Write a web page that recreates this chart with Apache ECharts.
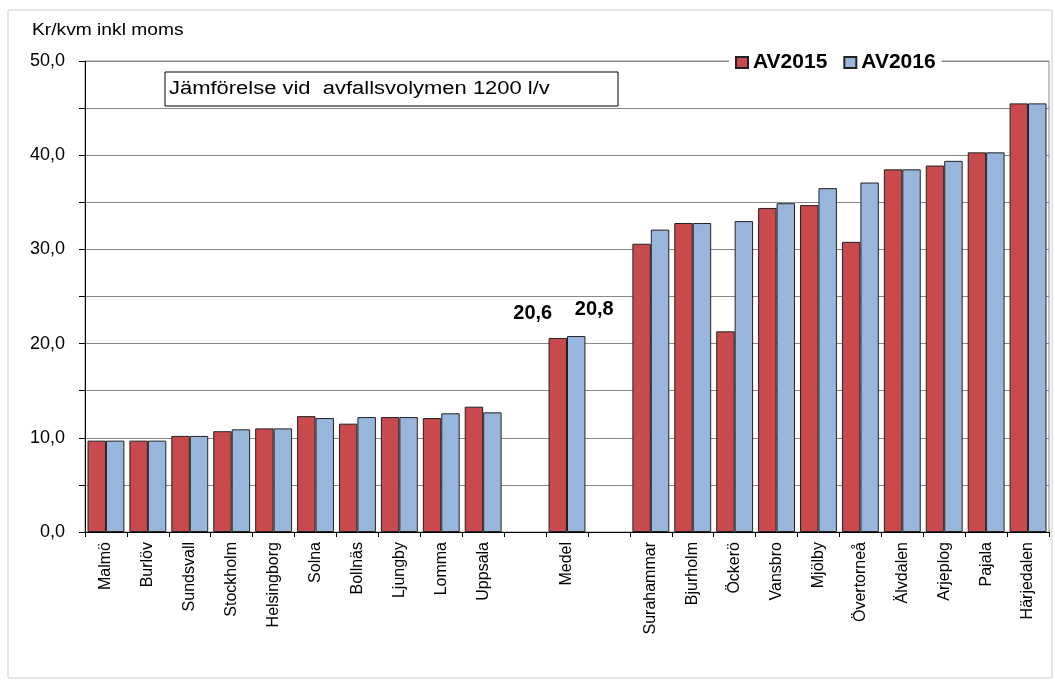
<!DOCTYPE html>
<html><head><meta charset="utf-8">
<script src="https://cdn.jsdelivr.net/npm/echarts@6/dist/echarts.min.js"></script>
<style>html,body{margin:0;padding:0;background:#fff}#c{width:1055px;height:680px}</style>
</head><body><div id="c"></div>
<script>
const categories = ['Malmö','Burlöv','Sundsvall','Stockholm','Helsingborg','Solna','Bollnäs','Ljungby','Lomma','Uppsala',' ','Medel','  ','Surahammar','Bjurholm','Öckerö','Vansbro','Mjölby','Övertorneå','Älvdalen','Arjeplog','Pajala','Härjedalen'];
const av2015 = [9.7,9.7,10.2,10.7,11.0,12.3,11.5,12.2,12.1,13.3,null,20.6,null,30.6,32.8,21.3,34.4,34.7,30.8,38.5,38.9,40.3,45.5];
const av2016 = [9.7,9.7,10.2,10.9,11.0,12.1,12.2,12.2,12.6,12.7,null,20.8,null,32.1,32.8,33.0,34.9,36.5,37.1,38.5,39.4,40.3,45.5];
const seriesNames = ['AV2015','AV2016'];
const yTicks = [0,10,20,30,40,50];
const titleText = 'Kr/kvm inkl moms';
const boxText = 'Jämförelse vid  avfallsvolymen 1200 l/v';
const medelIndex = 11;

const fmt = v => v.toFixed(1).replace('.', ',');
const font = 'Liberation Sans, Arial, sans-serif';

function withLabel(arr, offset) {
  return arr.map((v, i) => i === medelIndex ? {
    value: v,
    label: { show: true, position: 'top', offset: offset, formatter: p => fmt(p.value),
      fontFamily: font, fontWeight: 'bold', fontSize: 20, color: '#000' }
  } : v);
}

const chart = echarts.init(document.getElementById('c'));
chart.setOption({
  animation: false,
  textStyle: { fontFamily: font },
  grid: { left: 85, right: 6, top: 61, bottom: 148, show: true, borderColor: '#888', borderWidth: 1 },
  legend: {
    data: seriesNames, left: 729, top: 51, itemWidth: 12, itemHeight: 11, itemGap: 16,
    backgroundColor: '#fff', padding: [1, 6],
    textStyle: { fontFamily: font, fontWeight: 'bold', fontSize: 21, color: '#000' },
    icon: 'rect'
  },
  graphic: [
    { type: 'rect', shape: { x: 8, y: 10, width: 1044, height: 668 }, style: { fill: 'none', stroke: '#ccc', lineWidth: 1 }, z: -1 },
    { type: 'text', x: 32, y: 22, scaleX: 1.13, style: { text: titleText, fontFamily: font, fontSize: 17, fill: '#000', textVerticalAlign: 'top' } },
    { type: 'rect', shape: { x: 165, y: 72, width: 453, height: 34 }, style: { fill: '#fff', stroke: '#000', lineWidth: 1 }, z: 10 },
    { type: 'text', x: 169, y: 80, scaleX: 1.22, style: { text: boxText, fontFamily: font, fontSize: 18, fill: '#000', textVerticalAlign: 'top' }, z: 11 }
  ],
  xAxis: {
    type: 'category', data: categories,
    axisLine: { lineStyle: { color: '#000' } },
    axisTick: { show: true, length: 5, lineStyle: { color: '#000' } },
    axisLabel: { rotate: 90, fontFamily: font, fontSize: 16, color: '#000', margin: 10, interval: 0 }
  },
  yAxis: {
    type: 'value', min: 0, max: 50, interval: 5,
    axisLine: { show: true, lineStyle: { color: '#000' } },
    axisTick: { show: true, length: 6, lineStyle: { color: '#000' } },
    splitLine: { lineStyle: { color: '#888' } },
    axisLabel: { fontFamily: font, fontSize: 18, color: '#000', margin: 20,
      formatter: v => yTicks.includes(v) ? fmt(v) : '' }
  },
  series: [
    { name: seriesNames[0], type: 'bar', data: withLabel(av2015, [-25, -9]), barGap: '0%', barCategoryGap: '12%',
      itemStyle: { color: '#C94A4C', borderColor: '#222', borderWidth: 1 } },
    { name: seriesNames[1], type: 'bar', data: withLabel(av2016, [18, -12]),
      itemStyle: { color: '#98B6DC', borderColor: '#222', borderWidth: 1 } }
  ]
});
</script></body></html>
